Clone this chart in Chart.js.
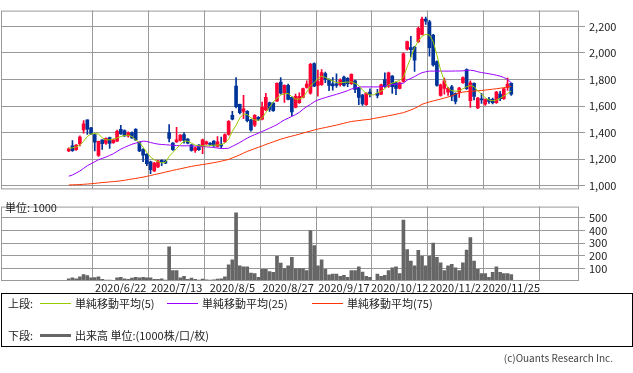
<!DOCTYPE html>
<html>
<head>
<meta charset="utf-8">
<script src="https://cdn.jsdelivr.net/npm/chart.js@4.4.1/dist/chart.umd.min.js"></script>
<style>
  body{ margin:0; background:#fff; width:633px; height:373px; position:relative; overflow:hidden;
        font-family:"Noto Sans CJK JP","Noto Sans",sans-serif; color:#222; }
  canvas{ position:absolute; left:0; }
  #price{ top:0; }
  #volume{ top:196px; }
  #unit{ position:absolute; left:5px; top:201px; font-size:11px; line-height:13px; }
  #legend{ position:absolute; left:1px; top:293px; width:630px; height:52px; border:1px solid #000; }
  #legend span{ position:absolute; font-size:11px; line-height:13px; white-space:nowrap; }
  #legend i{ position:absolute; height:0; }
  #copy{ position:absolute; right:20px; top:351px; font-size:10px; line-height:13px; color:#444; }
</style>
</head>
<body>
<canvas id="price" width="633" height="200"></canvas>
<canvas id="volume" width="633" height="98"></canvas>
<div id="unit">単位: 1000</div>
<div id="legend">
  <span style="left:6px;top:3px">上段:</span>
  <i style="left:38px;top:9px;width:31px;border-top:1px solid #99cc00"></i>
  <span style="left:73px;top:3px">単純移動平均(5)</span>
  <i style="left:165px;top:9px;width:31px;border-top:1px solid #9900ff"></i>
  <span style="left:200px;top:3px">単純移動平均(25)</span>
  <i style="left:310px;top:9px;width:31px;border-top:1px solid #ff3300"></i>
  <span style="left:345px;top:3px">単純移動平均(75)</span>
  <span style="left:6px;top:35px">下段:</span>
  <i style="left:38px;top:40px;width:31px;border-top:3px solid #666"></i>
  <span style="left:73px;top:35px">出来高 単位:(1000株/口/枚)</span>
</div>
<div id="copy">(c)Ouants Research Inc.</div>

<script>
// 日付（営業日）— 10/1 は東証システム障害で売買なし
const dates = [
  '2020/6/2','2020/6/3','2020/6/4','2020/6/5','2020/6/8','2020/6/9','2020/6/10','2020/6/11','2020/6/12','2020/6/15',
  '2020/6/16','2020/6/17','2020/6/18','2020/6/19','2020/6/22','2020/6/23','2020/6/24','2020/6/25','2020/6/26','2020/6/29',
  '2020/6/30','2020/7/1','2020/7/2','2020/7/3','2020/7/6','2020/7/7','2020/7/8','2020/7/9','2020/7/10','2020/7/13',
  '2020/7/14','2020/7/15','2020/7/16','2020/7/17','2020/7/20','2020/7/21','2020/7/22','2020/7/27','2020/7/28','2020/7/29',
  '2020/7/30','2020/7/31','2020/8/3','2020/8/4','2020/8/5','2020/8/6','2020/8/7','2020/8/11','2020/8/12','2020/8/13',
  '2020/8/14','2020/8/17','2020/8/18','2020/8/19','2020/8/20','2020/8/21','2020/8/24','2020/8/25','2020/8/26','2020/8/27',
  '2020/8/28','2020/8/31','2020/9/1','2020/9/2','2020/9/3','2020/9/4','2020/9/7','2020/9/8','2020/9/9','2020/9/10',
  '2020/9/11','2020/9/14','2020/9/15','2020/9/16','2020/9/17','2020/9/18','2020/9/23','2020/9/24','2020/9/25','2020/9/28',
  '2020/9/29','2020/9/30','2020/10/1','2020/10/2','2020/10/5','2020/10/6','2020/10/7','2020/10/8','2020/10/9','2020/10/12',
  '2020/10/13','2020/10/14','2020/10/15','2020/10/16','2020/10/19','2020/10/20','2020/10/21','2020/10/22','2020/10/23','2020/10/26',
  '2020/10/27','2020/10/28','2020/10/29','2020/10/30','2020/11/2','2020/11/4','2020/11/5','2020/11/6','2020/11/9','2020/11/10',
  '2020/11/11','2020/11/12','2020/11/13','2020/11/16','2020/11/17','2020/11/18','2020/11/19','2020/11/20','2020/11/24','2020/11/25'
];

const opens = [
  1262,1300,1270,1315,1420,1495,1435,1385,1228,1345, 1320,1362,1323,1335,1425,1415,1375,1400,1425,1325,
  1272,1237,1180,1110,1140,1190,1185,1400,1320,1330, 1340,1385,1350,1308,1265,1305,1300,1315,1320,1335,
  1295,1310,1330,1385,1530,1750,1612,1560,1560,1495, 1455,1515,1500,1570,1625,1622,1637,1780,1697,1755,
  1665,1590,1625,1665,1740,1697,1920,1755,1760,1845, 1800,1768,1768,1760,1818,1808,1768,1790,1735,1682,
  1610,1705,null,1695,1690,1800,1750,1825,1775,1733, 1785,2028,2040,2045,2085,2140,2255,2235,2135,1935,
  1680,1733,1705,1745,1695,1705,1775,1875,1640,1770, 1585,1655,1613,1650,1650,1625,1690,1655,1740,1770
];
const highs = [
  1285,1340,1310,1375,1490,1495,1440,1390,1335,1345, 1360,1365,1350,1418,1455,1420,1405,1405,1430,1330,
  1280,1240,1185,1175,1190,1195,1190,1460,1325,1440, 1385,1400,1355,1310,1290,1310,1350,1335,1325,1340,
  1370,1365,1390,1490,1560,1815,1615,1680,1565,1500, 1535,1520,1630,1695,1630,1625,1775,1815,1760,1765,
  1670,1690,1700,1735,1790,1922,1925,1870,1875,1855, 1805,1815,1842,1805,1825,1815,1842,1795,1740,1688,
  1700,1730,null,1725,1765,1850,1855,1830,1780,1780, 2000,2090,2125,2050,2195,2270,2270,2245,2140,1940,
  1765,1810,1740,1755,1700,1740,1820,1880,1790,1775, 1665,1695,1655,1665,1660,1710,1710,1735,1810,1775
];
const lows = [
  1255,1258,1265,1300,1395,1385,1385,1262,1220,1273, 1310,1280,1318,1333,1385,1370,1365,1355,1340,1255,
  1180,1150,1090,1105,1135,1150,1165,1330,1265,1325, 1335,1320,1315,1260,1250,1265,1240,1310,1305,1295,
  1290,1280,1325,1380,1495,1585,1540,1505,1480,1410, 1445,1490,1495,1565,1560,1560,1635,1690,1627,1645,
  1525,1585,1620,1660,1735,1690,1745,1675,1755,1775, 1715,1720,1740,1750,1750,1745,1762,1700,1610,1605,
  1605,1668,null,1660,1685,1740,1740,1695,1685,1728, 1780,2020,1970,1860,2080,2135,2215,1975,1900,1750,
  1675,1690,1680,1640,1615,1665,1770,1725,1590,1645, 1580,1620,1605,1620,1615,1620,1640,1650,1718,1680
];
const closes = [
  1278,1263,1305,1365,1465,1425,1390,1328,1333,1316, 1357,1318,1345,1410,1390,1375,1398,1360,1345,1262,
  1230,1165,1120,1170,1185,1180,1170,1355,1270,1345, 1380,1340,1320,1265,1285,1270,1345,1330,1310,1300,
  1330,1300,1385,1485,1500,1595,1550,1578,1490,1420, 1530,1498,1590,1665,1575,1565,1770,1697,1755,1650,
  1555,1672,1672,1732,1765,1915,1750,1785,1852,1800, 1755,1752,1755,1795,1755,1768,1838,1725,1665,1615,
  1697,1685,null,1680,1760,1745,1850,1745,1733,1775, 1993,2085,2025,1945,2185,2255,2240,2040,1910,1755,
  1760,1790,1733,1675,1635,1735,1815,1730,1775,1672, 1660,1645,1648,1635,1625,1705,1655,1730,1765,1690
];

// 単純移動平均（チャートから読み取り）
const ma5 = [
  1280,1285,1292,1305,1335,1370,1390,1392,1390,1360, 1345,1345,1350,1360,1370,1378,1380,1370,1345,1325,
  1290,1250,1215,1195,1180,1172,1175,1220,1250,1280, 1310,1335,1335,1320,1305,1300,1300,1300,1300,1305,
  1305,1310,1320,1350,1410,1455,1510,1540,1535,1510, 1495,1492,1510,1550,1590,1630,1660,1682,1692,1695,
  1670,1652,1652,1665,1705,1750,1778,1805,1825,1815, 1800,1788,1777,1775,1778,1780,1782,1770,1755,1720,
  1695,1684,1684,1700,1712,1730,1758,1773,1782,1793, 1818,1895,1965,2040,2090,2125,2140,2135,2085,1985,
  1870,1790,1735,1715,1712,1715,1730,1745,1755,1745, 1715,1690,1662,1645,1640,1645,1658,1675,1695,1712
];
const ma25 = [
  1071,1080,1095,1110,1130,1150,1165,1180,1195,1205, 1215,1228,1240,1258,1275,1288,1300,1312,1320,1330,
  1335,1333,1325,1318,1313,1310,1308,1306,1304,1302, 1300,1300,1300,1299,1298,1296,1294,1292,1290,1287,
  1283,1280,1280,1282,1296,1310,1325,1342,1358,1372, 1384,1395,1408,1420,1433,1446,1460,1478,1495,1508,
  1522,1535,1552,1575,1595,1612,1632,1645,1655,1663, 1672,1680,1688,1697,1706,1716,1728,1736,1742,1744,
  1744,1744,1744,1744,1745,1750,1755,1762,1764,1766, 1772,1795,1808,1822,1838,1851,1858,1863,1863,1863,
  1863,1863,1863,1863,1864,1864,1865,1868,1870,1866, 1858,1852,1848,1843,1838,1832,1825,1815,1800,1775
];
const ma75 = [
  1005,1006,1007,1008,1010,1012,1014,1017,1020,1023, 1025,1028,1030,1033,1036,1040,1045,1050,1054,1059,
  1064,1070,1076,1083,1089,1095,1102,1108,1115,1121, 1127,1133,1139,1145,1150,1154,1159,1163,1168,1173,
  1178,1184,1191,1197,1209,1220,1232,1245,1258,1268, 1279,1289,1299,1310,1320,1330,1340,1350,1358,1366,
  1373,1380,1388,1396,1404,1411,1419,1426,1432,1438, 1444,1450,1456,1463,1470,1477,1483,1487,1490,1494,
  1497,1500,1506,1511,1516,1521,1527,1532,1538,1544, 1550,1560,1570,1582,1596,1613,1622,1631,1638,1645,
  1652,1660,1668,1676,1690,1698,1705,1708,1711,1713, 1715,1717,1720,1723,1727,1730,1734,1738,1743,1748
];

const volumes = [
  17,25,18,33,50,43,25,28,33,13, 8,8,3,25,30,18,13,23,30,25,
  30,25,25,13,13,18,8,270,83,83, 25,38,13,23,13,8,15,10,8,10,
  15,18,33,128,168,540,120,113,113,63, 58,30,93,93,75,68,195,143,98,120,
  188,98,98,98,83,400,280,120,168,93, 48,55,55,38,45,30,83,83,113,70,
  38,30,0,55,38,45,83,105,113,58, 483,250,158,120,243,195,120,195,300,188,
  145,83,120,133,105,83,145,245,345,158, 93,58,58,30,68,113,68,58,58,50
];

const priceTicks = [1000,1200,1400,1600,1800,2000,2200];
const volumeTicks = [100,200,300,400,500];
const labelIdx = [14,29,44,59,74,89,104,119];

const UP = '#ff0033', DOWN = '#003399', GRID = '#999999';
const FONT = { family:'"Noto Sans CJK JP","Noto Sans",sans-serif', size:11 };

const framePlugin = {
  id:'frame',
  afterDraw(chart){
    const { ctx, chartArea:a } = chart;
    ctx.save();
    ctx.strokeStyle = GRID; ctx.lineWidth = 1;
    ctx.strokeRect(a.left + .5, a.top + .5, a.right - a.left - 1, a.bottom - a.top - 1);
    ctx.restore();
  }
};

function xScale(showLabels, height){
  return {
    type:'linear', min:-8.5, max:127.5,
    afterBuildTicks: s => { s.ticks = labelIdx.map(v => ({ value:v })); },
    afterFit: s => { s.height = height; },
    grid:{ color:GRID, drawTicks:false },
    border:{ display:false },
    ticks:{ display:showLabels, color:'#222', font:FONT, padding:0, maxRotation:0, autoSkip:false,
            callback: v => dates[v] }
  };
}

// ローソク足：実体と髭を浮動棒で重ねる
const bodies = [], wicks = [], candleColors = [];
dates.forEach((d, i) => {
  if(opens[i] == null) return;
  bodies.push({ x:i, y:[opens[i], closes[i]] });
  wicks.push({ x:i, y:[lows[i], highs[i]] });
  candleColors.push(closes[i] >= opens[i] ? UP : DOWN);
});
const maLine = (arr, color) => ({
  type:'line', data: arr.map((v, i) => ({ x:i, y:v })), borderColor:color, borderWidth:1,
  pointRadius:0, tension:0, order:0
});

new Chart(document.getElementById('price'), {
  type:'bar',
  data:{ datasets:[
    maLine(ma5, '#99cc00'),
    maLine(ma25, '#9900ff'),
    maLine(ma75, '#ff3300'),
    { data:bodies, backgroundColor:candleColors, barThickness:3, minBarLength:1, grouped:false, order:1 },
    { data:wicks, backgroundColor:candleColors, barThickness:1, grouped:false, order:2 }
  ]},
  options:{
    responsive:false, animation:false,
    layout:{ padding:{ top:1, left:1 } },
    plugins:{ legend:{ display:false }, tooltip:{ enabled:false } },
    scales:{
      x: xScale(false, 10),
      y:{ position:'right', min:971.5, max:2319,
          afterBuildTicks: s => { s.ticks = priceTicks.map(v => ({ value:v })); },
          afterFit: s => { s.width = 54; },
          grid:{ color:GRID, tickLength:6 }, border:{ display:false },
          ticks:{ color:'#222', font:FONT, padding:4, callback: v => v.toLocaleString('en-US') } }
    }
  },
  plugins:[framePlugin]
});

new Chart(document.getElementById('volume'), {
  type:'bar',
  data:{ datasets:[{ data: volumes.map((v, i) => ({ x:i, y:v })), backgroundColor:'#666666', barThickness:3 }] },
  options:{
    responsive:false, animation:false,
    layout:{ padding:{ top:6, left:1 } },
    plugins:{ legend:{ display:false }, tooltip:{ enabled:false } },
    scales:{
      x: xScale(true, 13),
      y:{ position:'right', min:0, max:590,
          afterBuildTicks: s => { s.ticks = volumeTicks.map(v => ({ value:v })); },
          afterFit: s => { s.width = 54; },
          grid:{ color:GRID, tickLength:6 }, border:{ display:false },
          ticks:{ color:'#222', font:FONT, padding:4 } }
    }
  },
  plugins:[framePlugin]
});
</script>
</body>
</html>
